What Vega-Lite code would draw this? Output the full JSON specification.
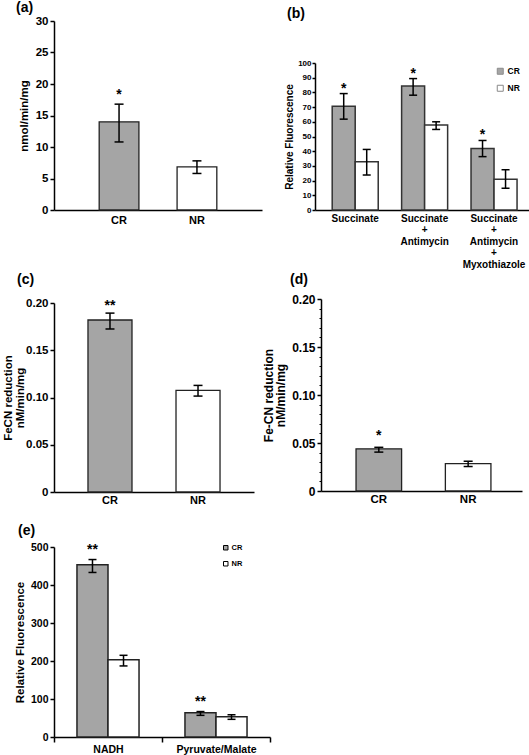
{
  "$schema": "https://vega.github.io/schema/vega-lite/v6.json",
  "padding": {"left": 2, "top": 1, "right": 0, "bottom": 0},
  "columns": 2,
  "align": {"row": "none", "column": "each"},
  "bounds": "flush",
  "spacing": {"row": 55, "column": 48},
  "resolve": {"scale": {"fill": "independent", "xOffset": "independent"}, "legend": {"fill": "independent"}},
  "config": {
    "font": "Liberation Sans",
    "view": {"stroke": null},
    "axis": {"domainColor": "black", "domainWidth": 1.5, "tickColor": "black", "tickWidth": 1.5, "tickSize": 4, "labelColor": "black", "labelFont": "Liberation Sans", "labelFontWeight": "bold", "titleFont": "Liberation Sans", "titleFontWeight": "bold", "titleColor": "black", "grid": false, "labelPadding": 2, "labelOverlap": false},
    "title": {"fontSize": 14, "fontWeight": "bold", "anchor": "start", "frame": "group", "color": "black"},
    "tick": {"opacity": 1}
  },
  "concat": [
    {
      "width": 208, "height": 189,
      "title": {"text": "(a)", "dx": -38, "offset": 0},
      "data": {"values": [
        {"group": "CR", "value": 14.0, "lo": 10.8, "hi": 16.8, "sig": "*"},
        {"group": "NR", "value": 6.85, "lo": 5.8, "hi": 7.8, "sig": ""}
      ]},
      "encoding": {"x": {"field": "group", "type": "nominal", "sort": null, "scale": {"paddingInner": 0.49, "paddingOuter": 0.58}, "axis": {"title": null, "labelAngle": 0, "ticks": false, "labelFontSize": 11, "labelPadding": 4}}},
      "resolve": {"axis": {"y": "independent"}},
      "layer": [
        {"mark": {"type": "bar", "stroke": "#222", "strokeWidth": 1.3}, "encoding": {
          "y": {"field": "value", "type": "quantitative", "scale": {"domain": [0, 30]}, "axis": {"orient": "left", "title": "nmol/min/mg", "values": [0, 5, 10, 15, 20, 25, 30], "labelOverlap": false, "labelFontSize": 11.5, "titleFontSize": 11.5, "titlePadding": 6}},
          "fill": {"field": "group", "type": "nominal", "scale": {"domain": ["CR", "NR"], "range": ["#a5a5a5", "#ffffff"]}, "legend": null}}},
        {"mark": {"type": "rule", "color": "black", "strokeWidth": 1.5}, "encoding": {"y": {"field": "lo", "type": "quantitative", "axis": null}, "y2": {"field": "hi"}}},
        {"mark": {"type": "tick", "color": "black", "thickness": 1.5, "size": 9}, "encoding": {"y": {"field": "lo", "type": "quantitative", "axis": null}}},
        {"mark": {"type": "tick", "color": "black", "thickness": 1.5, "size": 9}, "encoding": {"y": {"field": "hi", "type": "quantitative", "axis": null}}},
        {"mark": {"type": "text", "fontSize": 14, "fontWeight": "bold", "baseline": "alphabetic", "dy": -5}, "encoding": {"y": {"field": "hi", "type": "quantitative", "axis": null}, "text": {"field": "sig"}}}
      ]
    },
    {
      "width": 214, "height": 189,
      "title": {"text": "(b)", "dx": -31, "offset": 0},
      "data": {"values": [
        {"substrate": "Succinate", "group": "CR", "value": 70.6, "lo": 61.8, "hi": 79.2, "sig": "*"},
        {"substrate": "Succinate", "group": "NR", "value": 32.8, "lo": 23.8, "hi": 41.2, "sig": ""},
        {"substrate": "Succinate|+|Antimycin", "group": "CR", "value": 84.4, "lo": 78.1, "hi": 89.4, "sig": "*"},
        {"substrate": "Succinate|+|Antimycin", "group": "NR", "value": 57.9, "lo": 54.8, "hi": 60.0, "sig": ""},
        {"substrate": "Succinate|+|Antimycin|+|Myxothiazole", "group": "CR", "value": 41.9, "lo": 36.3, "hi": 47.3, "sig": "*"},
        {"substrate": "Succinate|+|Antimycin|+|Myxothiazole", "group": "NR", "value": 21.0, "lo": 14.8, "hi": 27.4, "sig": ""}
      ]},
      "encoding": {
        "x": {"field": "substrate", "type": "nominal", "sort": null, "scale": {"range": [-3, 211], "paddingInner": 0.337, "paddingOuter": 0.21, "align": 0.59}, "axis": {"title": null, "labelAngle": 0, "ticks": false, "labelFontSize": 10, "labelLineHeight": 11.5, "labelPadding": 3, "labelExpr": "split(datum.label, '|')"}},
        "xOffset": {"field": "group", "type": "nominal", "sort": ["CR", "NR"], "scale": {"paddingInner": 0, "paddingOuter": 0}}
      },
      "resolve": {"axis": {"y": "independent"}},
      "layer": [
        {"mark": {"type": "bar", "stroke": "#333", "strokeWidth": 1.5}, "encoding": {
          "y": {"field": "value", "type": "quantitative", "scale": {"domain": [0, 100], "range": [189, 42]}, "axis": {"orient": "left", "offset": 3, "title": "Relative Fluorescence", "values": [0, 10, 20, 30, 40, 50, 60, 70, 80, 90, 100], "labelOverlap": false, "labelFontSize": 8, "titleFontSize": 10, "titlePadding": 3, "tickSize": 3, "labelPadding": 1}},
          "fill": {"field": "group", "type": "nominal", "scale": {"domain": ["CR", "NR"], "range": ["#a5a5a5", "#ffffff"]}, "legend": {"title": null, "orient": "none", "legendX": 178, "legendY": 46, "symbolType": "square", "symbolSize": 36, "symbolStrokeColor": "#888", "symbolStrokeWidth": 1, "labelFontSize": 8.5, "labelFontWeight": "bold", "labelColor": "black", "labelOffset": 3, "rowPadding": 6, "padding": 0,
            "encode": {"symbols": {"update": {"fill": {"signal": "datum.label == 'CR' ? '#8c8c8c' : '#ffffff'"}, "stroke": {"signal": "datum.label == 'CR' ? '#8c8c8c' : '#888888'"}}}}}}}},
        {"mark": {"type": "rule", "color": "black", "strokeWidth": 1.5}, "encoding": {"y": {"field": "lo", "type": "quantitative", "axis": null}, "y2": {"field": "hi"}}},
        {"mark": {"type": "tick", "color": "black", "thickness": 1.5, "size": 8}, "encoding": {"y": {"field": "lo", "type": "quantitative", "axis": null}}},
        {"mark": {"type": "tick", "color": "black", "thickness": 1.5, "size": 8}, "encoding": {"y": {"field": "hi", "type": "quantitative", "axis": null}}},
        {"mark": {"type": "text", "fontSize": 14, "fontWeight": "bold", "baseline": "alphabetic", "dy": -1}, "encoding": {"y": {"field": "hi", "type": "quantitative", "axis": null}, "text": {"field": "sig"}}}
      ]
    },
    {
      "width": 200, "height": 227,
      "title": {"text": "(c)", "dx": -37, "offset": -22},
      "data": {"values": [
        {"group": "CR", "value": 0.182, "lo": 0.1725, "hi": 0.1893, "sig": "**"},
        {"group": "NR", "value": 0.1076, "lo": 0.1015, "hi": 0.1128, "sig": ""}
      ]},
      "encoding": {"x": {"field": "group", "type": "nominal", "sort": null, "scale": {"paddingInner": 0.5, "paddingOuter": 0.386}, "axis": {"title": null, "labelAngle": 0, "ticks": false, "labelFontSize": 11, "labelPadding": 2}}},
      "resolve": {"axis": {"y": "independent"}},
      "layer": [
        {"mark": {"type": "bar", "stroke": "#222", "strokeWidth": 1.3}, "encoding": {
          "y": {"field": "value", "type": "quantitative", "scale": {"domain": [0, 0.2], "range": [227, 38]}, "axis": {"orient": "left", "title": ["FeCN reduction", "nM/min/mg"], "titleLineHeight": 12, "values": [0, 0.05, 0.1, 0.15, 0.2], "labelOverlap": false, "labelExpr": "datum.value == 0 ? '0' : format(datum.value, '.2f')", "labelFontSize": 11.5, "titleFontSize": 11.5, "titlePadding": 0}},
          "fill": {"field": "group", "type": "nominal", "scale": {"domain": ["CR", "NR"], "range": ["#a5a5a5", "#ffffff"]}, "legend": null}}},
        {"mark": {"type": "rule", "color": "black", "strokeWidth": 1.5}, "encoding": {"y": {"field": "lo", "type": "quantitative", "axis": null}, "y2": {"field": "hi"}}},
        {"mark": {"type": "tick", "color": "black", "thickness": 1.5, "size": 9}, "encoding": {"y": {"field": "lo", "type": "quantitative", "axis": null}}},
        {"mark": {"type": "tick", "color": "black", "thickness": 1.5, "size": 9}, "encoding": {"y": {"field": "hi", "type": "quantitative", "axis": null}}},
        {"mark": {"type": "text", "fontSize": 14, "fontWeight": "bold", "baseline": "alphabetic", "dy": -3}, "encoding": {"y": {"field": "hi", "type": "quantitative", "axis": null}, "text": {"field": "sig"}}}
      ]
    },
    {
      "width": 207, "height": 226,
      "title": {"text": "(d)", "dx": -28, "offset": -22},
      "data": {"values": [
        {"group": "CR", "value": 0.0439, "lo": 0.0405, "hi": 0.0455, "sig": "*"},
        {"group": "NR", "value": 0.0286, "lo": 0.0255, "hi": 0.031, "sig": ""}
      ]},
      "encoding": {"x": {"field": "group", "type": "nominal", "sort": null, "scale": {"range": [3, 204], "paddingInner": 0.49, "paddingOuter": 0.37, "align": 0.53}, "axis": {"title": null, "labelAngle": 0, "ticks": false, "labelFontSize": 11.5, "labelPadding": 2}}},
      "resolve": {"axis": {"y": "independent"}},
      "layer": [
        {"mark": {"type": "bar", "stroke": "#222", "strokeWidth": 1.3}, "encoding": {
          "y": {"field": "value", "type": "quantitative", "scale": {"domain": [0, 0.2], "range": [226, 34]}, "axis": {"offset": -3, "title": ["Fe-CN reduction", "nM/min/mg"], "titleLineHeight": 12, "values": [0, 0.05, 0.1, 0.15, 0.2], "labelOverlap": false, "labelExpr": "datum.value == 0 ? '0' : format(datum.value, '.2f')", "labelFontSize": 12, "titleFontSize": 12, "titlePadding": 4}},
          "fill": {"field": "group", "type": "nominal", "scale": {"domain": ["CR", "NR"], "range": ["#a5a5a5", "#ffffff"]}, "legend": null}}},
        {"mark": {"type": "rule", "color": "black", "strokeWidth": 1.5}, "encoding": {"y": {"field": "lo", "type": "quantitative", "axis": {"orient": "left", "offset": -3, "values": [0.01, 0.02, 0.03, 0.04, 0.06, 0.07, 0.08, 0.09, 0.11, 0.12, 0.13, 0.14, 0.16, 0.17, 0.18, 0.19], "labels": false, "domain": false, "title": null, "tickSize": 2, "tickWidth": 1}}, "y2": {"field": "hi"}}},
        {"mark": {"type": "tick", "color": "black", "thickness": 1.5, "size": 9}, "encoding": {"y": {"field": "lo", "type": "quantitative", "axis": null}}},
        {"mark": {"type": "tick", "color": "black", "thickness": 1.5, "size": 9}, "encoding": {"y": {"field": "hi", "type": "quantitative", "axis": null}}},
        {"mark": {"type": "text", "fontSize": 14, "fontWeight": "bold", "baseline": "alphabetic", "dy": -7}, "encoding": {"y": {"field": "hi", "type": "quantitative", "axis": null}, "text": {"field": "sig"}}}
      ]
    },
    {
      "width": 216, "height": 190,
      "title": {"text": "(e)", "dx": -36, "offset": 4},
      "data": {"values": [
        {"substrate": "NADH", "group": "CR", "value": 453, "lo": 433, "hi": 467, "sig": "**"},
        {"substrate": "NADH", "group": "NR", "value": 203, "lo": 187, "hi": 215, "sig": ""},
        {"substrate": "Pyruvate/Malate", "group": "CR", "value": 64, "lo": 57, "hi": 67, "sig": "**"},
        {"substrate": "Pyruvate/Malate", "group": "NR", "value": 53, "lo": 46.5, "hi": 58.5, "sig": ""}
      ]},
      "encoding": {
        "x": {"field": "substrate", "type": "nominal", "sort": null, "scale": {"paddingInner": 0, "paddingOuter": 0}, "axis": {"title": null, "labelAngle": 0, "ticks": true, "tickBand": "extent", "tickSize": 5, "labelFontSize": 10.5, "labelPadding": 2}},
        "xOffset": {"field": "group", "type": "nominal", "sort": ["CR", "NR"], "scale": {"paddingInner": 0, "paddingOuter": 0.74}}
      },
      "resolve": {"axis": {"y": "independent"}},
      "layer": [
        {"mark": {"type": "bar", "stroke": "#222", "strokeWidth": 1.5}, "encoding": {
          "y": {"field": "value", "type": "quantitative", "scale": {"domain": [0, 500]}, "axis": {"orient": "left", "title": "Relative Fluorescence", "values": [0, 100, 200, 300, 400, 500], "labelOverlap": false, "labelFontSize": 10.5, "titleFontSize": 11.5, "titlePadding": 5}},
          "fill": {"field": "group", "type": "nominal", "scale": {"domain": ["CR", "NR"], "range": ["#a5a5a5", "#ffffff"]}, "legend": {"title": null, "orient": "none", "legendX": 168, "legendY": -3, "symbolType": "square", "symbolSize": 20, "symbolStrokeColor": "black", "symbolStrokeWidth": 1, "labelFontSize": 7.5, "labelFontWeight": "bold", "labelColor": "black", "labelOffset": 2, "rowPadding": 7, "padding": 0,
            "encode": {"symbols": {"update": {"fill": {"value": "#ffffff"}, "stroke": {"value": "black"}}}}}}}},
        {"mark": {"type": "rule", "color": "black", "strokeWidth": 1.5}, "encoding": {"y": {"field": "lo", "type": "quantitative", "axis": null}, "y2": {"field": "hi"}}},
        {"mark": {"type": "tick", "color": "black", "thickness": 1.5, "size": 8}, "encoding": {"y": {"field": "lo", "type": "quantitative", "axis": null}}},
        {"mark": {"type": "tick", "color": "black", "thickness": 1.5, "size": 8}, "encoding": {"y": {"field": "hi", "type": "quantitative", "axis": null}}},
        {"mark": {"type": "text", "fontSize": 14, "fontWeight": "bold", "baseline": "alphabetic", "dy": -6}, "encoding": {"y": {"field": "hi", "type": "quantitative", "axis": null}, "text": {"field": "sig"}}}
      ]
    }
  ]
}
